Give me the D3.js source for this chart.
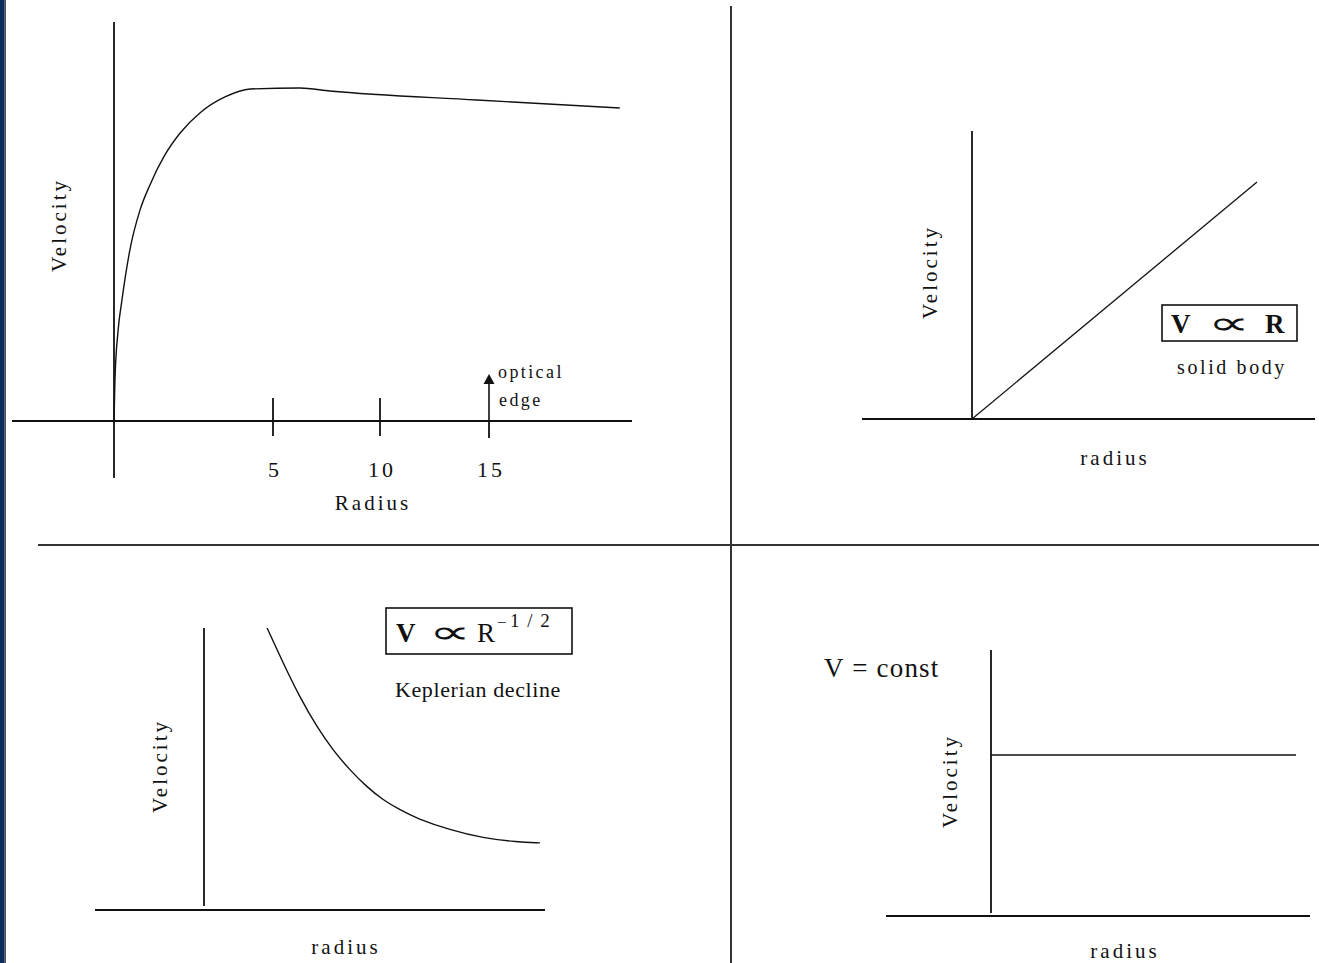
<!DOCTYPE html>
<html><head><meta charset="utf-8">
<script src="https://cdn.jsdelivr.net/npm/d3@7"></script>
<style>
html,body{margin:0;padding:0;background:#fff;}
svg{display:block;}
text{font-family:"Liberation Serif","Times New Roman",serif;fill:#111;}
</style></head>
<body>
<script>
// ---- Panel 1: generic rotation curve ----
const p1TickValues = [5, 10, 15];
const p1TickLabels = ["5", "10", "15"];
const p1Radius   = [0, 0.03, 0.13, 0.25, 0.5, 0.82, 1.13, 1.6, 2.08, 2.7, 3.49, 4.28, 6.26, 7.66, 14.44, 21.0];
const p1Velocity = [0, 12.3, 27.3, 36.3, 51.4, 63.4, 70.9, 79.9, 86.5, 92.5, 97.3, 99.7, 100, 99.1, 96.4, 94.0];
const p1OpticalEdge = 15;
// ---- Panel 2: solid body ----
const p2Radius = [0, 1];
const p2Velocity = [0, 1];
// ---- Panel 3: Keplerian decline ----
const p3Radius   = [1.85, 2.32, 2.82, 3.31, 3.78, 4.28, 4.78, 5.25, 5.75, 6.25, 7.21, 8.18, 9.18, 9.85];
const p3Velocity = [10.0, 8.76, 7.52, 6.49, 5.67, 4.96, 4.36, 3.90, 3.55, 3.24, 2.84, 2.55, 2.41, 2.38];
// ---- Panel 4: flat ----
const p4Radius = [0, 1];
const p4Velocity = [1, 1];

const W = 1319, H = 963;
const svg = d3.select("body").append("svg").attr("width", W).attr("height", H);
svg.append("rect").attr("width", W).attr("height", H).attr("fill", "#fff");

// left frame strip
svg.append("rect").attr("x", 0).attr("y", 0).attr("width", 4.5).attr("height", H).attr("fill", "#0b2d5e");
svg.append("line").attr("x1", 5.2).attr("x2", 5.2).attr("y1", 0).attr("y2", H).attr("stroke", "#333").attr("stroke-width", 1.3);

// dividers
svg.append("line").attr("x1", 731).attr("x2", 731).attr("y1", 6).attr("y2", H).attr("stroke", "#333").attr("stroke-width", 2);
svg.append("line").attr("x1", 38).attr("x2", W).attr("y1", 545).attr("y2", 545).attr("stroke", "#333").attr("stroke-width", 2);

function seg(x1, y1, x2, y2, w) {
  svg.append("line").attr("x1", x1).attr("x2", x2).attr("y1", y1).attr("y2", y2)
    .attr("stroke", "#111").attr("stroke-width", w || 1.8);
}
function txt(x, y, s, size, opts) {
  opts = opts || {};
  const t = svg.append("text").attr("x", x).attr("y", y).text(s)
    .attr("font-size", size).attr("text-anchor", opts.anchor || "middle")
    .attr("letter-spacing", opts.ls == null ? 1.5 : opts.ls);
  if (opts.rotate) t.attr("transform", `rotate(-90,${x},${y})`);
  if (opts.bold) t.attr("font-weight", "bold");
  return t;
}
function propSym(cx, y) {
  svg.append("text").attr("transform", `translate(${cx},${y}) scale(2.1,1.15)`)
    .attr("text-anchor", "middle").attr("font-size", 28).attr("font-family", "DejaVu Serif")
    .attr("font-weight", "normal").text("∝");
}
function curve(xs, ys, rx, vy, w, c) {
  const pts = xs.map((r, i) => [r, ys[i]]);
  svg.append("path").datum(pts)
    .attr("d", d3.line().x(d => rx(d[0])).y(d => vy(d[1])).curve(c || d3.curveMonotoneX))
    .attr("fill", "none").attr("stroke", "#111").attr("stroke-width", w || 1.4);
}

// ===== Panel 1 =====
{
  const rx = d3.scaleLinear().domain([0, 5, 10, 15]).range([114, 273, 380, 489]);
  const vy = d3.scaleLinear().domain([0, 100]).range([421, 88]);
  seg(12, vy(0), 632, vy(0));
  seg(rx(0), 22, rx(0), 478);
  p1TickValues.forEach((v, i) => {
    const x = rx(v);
    if (v === p1OpticalEdge) seg(x, vy(0), x, vy(0) + 17);
    else seg(x, vy(0) - 23, x, vy(0) + 15);
    txt(x + 2, 477, p1TickLabels[i], 22, { ls: 3 });
  });
  // optical edge arrow
  const ax = rx(p1OpticalEdge);
  seg(ax, vy(0), ax, 382, 1.6);
  svg.append("path").attr("d", `M${ax - 5.5},384 L${ax + 5.5},384 L${ax},374 Z`).attr("fill", "#111");
  txt(498, 378, "optical", 18, { anchor: "start", ls: 2.4 });
  txt(499, 406, "edge", 18, { anchor: "start", ls: 2.4 });
  txt(373, 510, "Radius", 21, { ls: 3 });
  txt(66, 225, "Velocity", 21, { rotate: true, ls: 3 });
  curve(p1Radius, p1Velocity, rx, vy, 1.4);
}

// ===== Panel 2 =====
{
  const rx = d3.scaleLinear().domain([0, 1]).range([972, 1257]);
  const vy = d3.scaleLinear().domain([0, 1]).range([419, 182]);
  seg(862, vy(0), 1315, vy(0));
  seg(rx(0), 131, rx(0), vy(0));
  curve(p2Radius, p2Velocity, rx, vy, 1.3, d3.curveLinear);
  txt(937, 272, "Velocity", 21, { rotate: true, ls: 3 });
  txt(1115, 465, "radius", 21, { ls: 3 });
  svg.append("rect").attr("x", 1162).attr("y", 305).attr("width", 135).attr("height", 36)
    .attr("fill", "none").attr("stroke", "#111").attr("stroke-width", 1.6);
  txt(1171, 333, "V", 27, { anchor: "start", bold: true, ls: 0 });
  propSym(1229, 334);
  txt(1265, 333, "R", 27, { anchor: "start", bold: true, ls: 0 });
  txt(1232, 374, "solid body", 20, { ls: 2.6 });
}

// ===== Panel 3 =====
{
  const rx = d3.scaleLinear().domain([0, 10]).range([204, 545]);
  const vy = d3.scaleLinear().domain([0, 10]).range([910, 628]);
  seg(95, vy(0), 545, vy(0));
  seg(rx(0), 628, rx(0), 906);
  curve(p3Radius, p3Velocity, rx, vy, 1.4, d3.curveBasis);
  txt(167, 766, "Velocity", 21, { rotate: true, ls: 3 });
  txt(346, 954, "radius", 21, { ls: 3 });
  svg.append("rect").attr("x", 386).attr("y", 608).attr("width", 186).attr("height", 46)
    .attr("fill", "none").attr("stroke", "#111").attr("stroke-width", 1.6);
  txt(396, 642, "V", 27, { anchor: "start", bold: true, ls: 0 });
  propSym(450, 643);
  txt(477, 642, "R", 27, { anchor: "start", ls: 0 });
  txt(497, 628, "−", 17, { anchor: "start", ls: 0 });
  txt(510, 627, "1 / 2", 19, { anchor: "start", ls: 1.5 });
  txt(478, 697, "Keplerian decline", 22, { ls: 0.6 });
}

// ===== Panel 4 =====
{
  const rx = d3.scaleLinear().domain([0, 1]).range([991, 1296]);
  const vy = d3.scaleLinear().domain([0, 1]).range([913, 755]);
  seg(886, 916, 1310, 916);
  seg(rx(0), 650, rx(0), 913);
  curve(p4Radius, p4Velocity, rx, vy, 1.6, d3.curveLinear);
  txt(957, 781, "Velocity", 21, { rotate: true, ls: 3 });
  txt(1125, 958, "radius", 21, { ls: 3 });
  txt(824, 677, "V = const", 27, { anchor: "start", ls: 1.2 });
}
</script>
</body></html>
